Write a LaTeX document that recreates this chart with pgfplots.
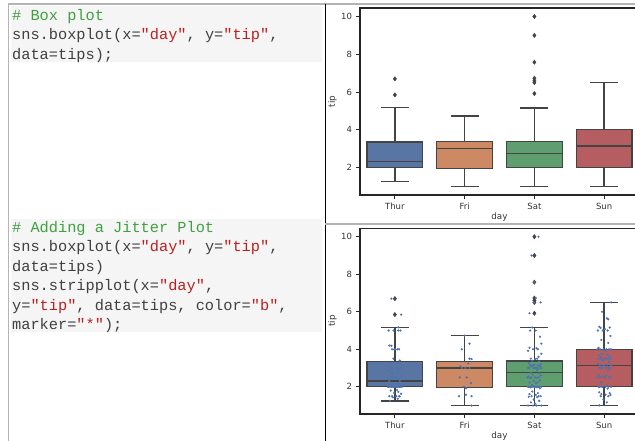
\documentclass[border=0pt]{standalone}
\usepackage{fontspec}
\setmainfont{DejaVu Sans}
\newfontfamily\codefont{Liberation Mono}
\usepackage{pgfplots}
\usepackage{pgfplotstable}
\pgfplotsset{compat=1.18}
\usepgfplotslibrary{statistics}

\definecolor{cThur}{HTML}{5975A4}
\definecolor{cFri}{HTML}{CC8963}
\definecolor{cSat}{HTML}{5F9E6E}
\definecolor{cSun}{HTML}{B55D60}
\definecolor{boxgray}{HTML}{444444}
\definecolor{spine}{HTML}{262626}
\definecolor{ticktext}{HTML}{333333}
\definecolor{stripblue}{HTML}{4C72B0}
\definecolor{codegreen}{RGB}{64,160,64}
\definecolor{codered}{RGB}{186,33,33}
\definecolor{codetext}{RGB}{64,64,64}
\definecolor{codebg}{HTML}{F5F5F5}
\definecolor{frame}{HTML}{B4B4B4}

\pgfplotstableread{
x y
-0.05 6.70
0.09 5.85
0.05 5.17
-0.09 5.00
-0.02 5.00
0.08 5.00
0.05 5.00
-0.08 4.20
-0.05 4.19
-0.04 4.00
0.01 4.00
0.04 4.00
0.06 4.00
-0.01 4.00
-0.02 3.50
0.07 3.40
-0.06 3.25
0.03 3.23
0.08 3.00
-0.07 3.00
0.02 3.00
-0.03 3.00
0.06 2.92
-0.09 2.83
0.04 2.75
-0.04 2.71
0.09 2.56
-0.06 2.52
0.01 2.50
-0.02 2.50
0.07 2.31
-0.08 2.30
0.03 2.18
-0.05 2.03
0.05 2.02
-0.01 2.01
0.10 2.00
-0.10 2.00
0.00 2.00
0.06 2.00
-0.07 2.00
0.02 2.00
-0.03 2.00
0.08 2.00
-0.05 2.00
0.04 2.00
-0.09 2.00
0.07 2.00
-0.02 2.00
0.03 1.83
-0.06 1.80
0.05 1.73
-0.01 1.68
0.09 1.63
-0.04 1.50
0.06 1.50
-0.08 1.50
0.02 1.50
0.07 1.48
-0.03 1.44
0.04 1.36
-0.07 1.25
1.00 4.73
1.07 4.30
0.96 4.00
1.07 3.50
1.10 3.48
1.05 3.25
0.96 3.00
1.07 3.00
1.01 3.00
0.94 3.09
0.93 2.50
1.03 2.50
1.09 2.20
0.99 2.00
1.02 1.92
1.02 1.58
0.92 1.50
1.10 1.50
1.10 1.00
2.06 10.00
1.96 9.00
2.00 7.58
2.02 6.73
2.09 6.50
1.99 6.50
1.93 5.92
1.97 5.16
2.02 5.00
1.94 5.00
2.08 4.67
2.10 4.30
1.93 4.08
2.03 4.06
1.98 4.00
2.05 4.00
1.91 3.92
2.10 3.76
2.06 3.60
1.95 3.50
2.04 3.50
2.01 3.48
1.97 3.39
2.07 3.35
1.92 3.27
2.09 3.20
2.00 3.18
1.94 3.16
2.05 3.15
1.98 3.12
2.08 3.11
1.96 3.09
2.03 3.00
1.91 3.00
2.06 3.00
1.99 3.00
2.10 3.00
1.93 3.00
2.02 3.00
2.04 2.88
1.95 2.74
2.07 2.72
1.98 2.64
2.09 2.60
1.92 2.55
2.01 2.50
1.96 2.50
2.06 2.50
1.90 2.50
2.03 2.47
1.94 2.45
2.08 2.34
1.99 2.31
2.05 2.24
1.93 2.23
2.02 2.20
1.97 2.09
2.07 2.00
1.91 2.00
2.04 2.00
1.95 2.00
2.10 2.00
1.98 2.00
2.06 2.00
1.92 2.00
2.01 2.00
1.96 2.00
2.03 1.98
1.94 1.97
2.08 1.92
1.97 1.75
2.05 1.66
1.93 1.61
2.02 1.57
2.09 1.50
1.96 1.50
2.06 1.50
1.92 1.47
2.04 1.45
1.99 1.32
2.07 1.25
1.95 1.17
2.01 1.10
1.91 1.00
2.03 1.00
2.10 1.00
1.98 1.00
3.10 6.50
2.97 6.00
3.04 5.65
3.06 5.60
2.93 5.20
3.08 5.16
2.95 5.14
3.01 5.07
2.91 5.00
3.05 5.00
2.98 5.00
3.09 4.71
2.96 4.50
3.06 4.34
2.92 4.08
3.03 4.00
2.94 4.00
3.10 4.00
2.99 4.00
3.07 4.00
2.90 4.00
3.02 3.92
2.97 3.76
3.05 3.71
2.93 3.68
3.08 3.61
2.95 3.55
3.01 3.51
3.09 3.50
2.96 3.50
3.06 3.50
2.92 3.50
3.03 3.50
2.98 3.41
3.07 3.31
2.91 3.23
3.04 3.18
2.94 3.16
3.10 3.15
2.99 3.14
3.05 3.07
2.97 3.02
3.08 3.00
2.93 3.00
3.02 3.00
2.95 3.00
3.06 2.90
2.92 2.64
3.03 2.60
2.98 2.55
3.09 2.54
2.94 2.51
3.01 2.50
2.90 2.50
3.07 2.50
2.96 2.24
3.04 2.05
2.92 2.00
3.06 2.00
2.98 2.00
3.10 2.00
2.94 2.00
3.02 2.00
2.97 2.00
3.05 1.90
2.93 1.71
3.08 1.66
2.96 1.61
3.02 1.58
3.09 1.56
2.95 1.50
3.06 1.50
2.99 1.32
3.04 1.17
2.93 1.01
}\stripdata

\pgfplotsset{
  tipsaxis/.style={
    anchor=south west, scale only axis, width=279pt,
    xmin=-0.5, xmax=3.5, ymin=0.55, ymax=10.45,
    xtick={0,1,2,3}, xticklabels={Thur,Fri,Sat,Sun},
    ytick={2,4,6,8,10},
    xtick pos=bottom, ytick pos=left, tick align=outside,
    major tick length=4.5pt,
    axis line style={draw=spine, line width=1.1pt},
    every tick/.style={draw=spine, line width=0.9pt},
    tick label style={font=\fontsize{8.5}{10}\selectfont, text=ticktext},
    /pgf/number format/assume math mode=true,
    xlabel={day}, ylabel={tip},
    every axis x label/.style={at={(axis description cs:0.5,0)}, anchor=center, yshift=-22pt, font=\fontsize{8.8}{10}\selectfont, text=ticktext},
    every axis y label/.style={at={(axis description cs:-0.0986,0.5)}, rotate=90, anchor=center, font=\fontsize{8.8}{10}\selectfont, text=ticktext},
    boxplot/draw direction=y,
  },
  bx/.style={draw=boxgray, line width=1.3pt, solid},
}

\begin{document}
\begin{tikzpicture}
\path[use as bounding box] (0pt,0pt) rectangle (635pt,441pt);
\clip (0pt,0pt) rectangle (635pt,441pt);
% notebook frame
\fill[codebg] (11pt,435pt) rectangle (322pt,378.5pt);
\fill[codebg] (11pt,222pt) rectangle (322pt,109pt);
\draw[frame, line width=1.5pt] (8pt,437pt) -- (635pt,437pt);
\draw[frame, line width=1pt] (8pt,437pt) -- (8pt,0pt);
\draw[black, line width=1pt] (325pt,437pt) -- (325pt,0pt);
\draw[frame, line width=1.5pt] (325pt,217pt) -- (635pt,217pt);
% code
\begin{scope}[every node/.style={anchor=base west, inner sep=0pt, font=\codefont\fontsize{15.3}{18}\selectfont, text=codetext}]
\node at (12pt,420.5pt) {\textcolor{codegreen}{\# Box plot}};
\node at (12pt,401pt) {sns.boxplot(x=\textcolor{codered}{"day"}, y=\textcolor{codered}{"tip"},};
\node at (12pt,381.5pt) {data=tips);};
\node at (12pt,208.5pt) {\textcolor{codegreen}{\# Adding a Jitter Plot}};
\node at (12pt,189pt) {sns.boxplot(x=\textcolor{codered}{"day"}, y=\textcolor{codered}{"tip"},};
\node at (12pt,169.5pt) {data=tips)};
\node at (12pt,150pt) {sns.stripplot(x=\textcolor{codered}{"day"},};
\node at (12pt,130.5pt) {y=\textcolor{codered}{"tip"}, data=tips, color=\textcolor{codered}{"b"},};
\node at (12pt,111pt) {marker=\textcolor{codered}{"*"});};
\end{scope}

% top chart
\begin{axis}[tipsaxis, at={(360pt,246pt)}, height=187pt]
\addplot[bx, fill=cThur, boxplot prepared={draw position=0, lower whisker=1.25, lower quartile=2.0, median=2.305, upper quartile=3.3625, upper whisker=5.17, box extend=0.8, whisker extend=0.4}] coordinates {};
\addplot[bx, fill=cFri, boxplot prepared={draw position=1, lower whisker=1.0, lower quartile=1.96, median=3.0, upper quartile=3.365, upper whisker=4.73, box extend=0.8, whisker extend=0.4}] coordinates {};
\addplot[bx, fill=cSat, boxplot prepared={draw position=2, lower whisker=1.0, lower quartile=2.0, median=2.75, upper quartile=3.37, upper whisker=5.16, box extend=0.8, whisker extend=0.4}] coordinates {};
\addplot[bx, fill=cSun, boxplot prepared={draw position=3, lower whisker=1.01, lower quartile=2.0, median=3.15, upper quartile=4.0, upper whisker=6.5, box extend=0.8, whisker extend=0.4}] coordinates {};
\addplot[only marks, mark=diamond*, mark size=2.2pt, color=boxgray] coordinates {(0,6.7) (0,5.85) (2,10) (2,9) (2,7.58) (2,6.73) (2,6.6) (2,6.5) (2,5.92)};
\end{axis}

% bottom chart
\begin{axis}[tipsaxis, at={(360pt,27pt)}, height=185.7pt]
\addplot[bx, fill=cThur, boxplot prepared={draw position=0, lower whisker=1.25, lower quartile=2.0, median=2.305, upper quartile=3.3625, upper whisker=5.17, box extend=0.8, whisker extend=0.4}] coordinates {};
\addplot[bx, fill=cFri, boxplot prepared={draw position=1, lower whisker=1.0, lower quartile=1.96, median=3.0, upper quartile=3.365, upper whisker=4.73, box extend=0.8, whisker extend=0.4}] coordinates {};
\addplot[bx, fill=cSat, boxplot prepared={draw position=2, lower whisker=1.0, lower quartile=2.0, median=2.75, upper quartile=3.37, upper whisker=5.16, box extend=0.8, whisker extend=0.4}] coordinates {};
\addplot[bx, fill=cSun, boxplot prepared={draw position=3, lower whisker=1.01, lower quartile=2.0, median=3.15, upper quartile=4.0, upper whisker=6.5, box extend=0.8, whisker extend=0.4}] coordinates {};
\addplot[only marks, mark=diamond*, mark size=2.2pt, color=boxgray] coordinates {(0,6.7) (0,5.85) (2,10) (2,9) (2,7.58) (2,6.73) (2,6.6) (2,6.5) (2,5.92)};
\addplot[only marks, mark=*, mark size=0.9pt, color=stripblue, mark options={draw=none, fill=stripblue}] table[x=x, y=y] {\stripdata};
\end{axis}
\end{tikzpicture}
\end{document}
